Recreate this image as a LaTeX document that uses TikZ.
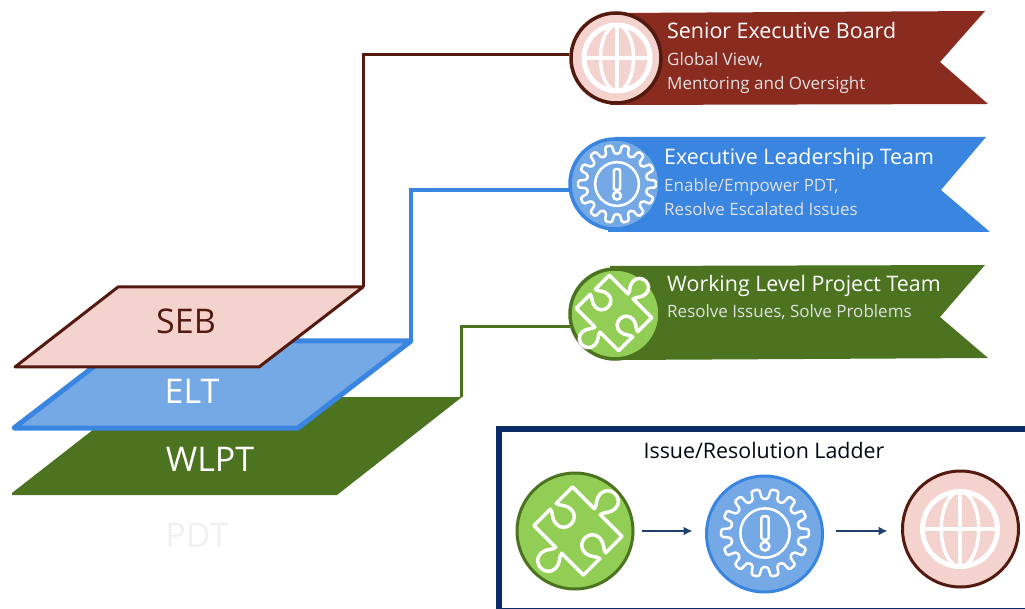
\documentclass[tikz,border=0pt]{standalone}
\usepackage{fontspec}
\setmainfont{Open Sans}
\usepackage{xcolor}
\usetikzlibrary{shapes.geometric, arrows.meta, positioning}

\definecolor{sebdark}{HTML}{8A2B20}
\definecolor{sebring}{HTML}{541A10}
\definecolor{sebfill}{HTML}{F4D2CD}
\definecolor{eltdark}{HTML}{3A85DF}
\definecolor{eltfill}{HTML}{75A9E6}
\definecolor{wlptdark}{HTML}{4B7320}
\definecolor{wlptfill}{HTML}{92CE55}
\definecolor{ladderblue}{HTML}{0A2A66}
\definecolor{arrowblue}{HTML}{1F3F6E}

\begin{document}
\begin{tikzpicture}[x=1pt, y=-1pt,
        badge/.style={circle, draw, line width=3.5pt, inner sep=0pt, minimum size=90pt},
        bigbadge/.style={circle, draw, line width=3pt, inner sep=0pt, minimum size=116pt},
        sebbadge/.style={draw=sebring, fill=sebfill},
        eltbadge/.style={draw=eltdark, fill=eltfill},
        wlptbadge/.style={draw=wlptdark, fill=wlptfill},
        title/.style={anchor=west, inner sep=0pt, text=white, text height=16pt, text depth=5pt, font=\fontsize{21.4}{21}\selectfont},
        subtitle/.style={anchor=north west, inner sep=0pt, align=left, text=white!88!black, font=\fontsize{17}{24}\selectfont},
        planelabel/.style={inner sep=0pt, font=\fontsize{34}{34}\selectfont},
        line/.style={draw, line width=3pt},
        flow/.style={draw=arrowblue, -{Latex[length=9pt, width=9pt]}, line width=2.5pt},
        globeicon/.pic={
            \draw[white, line width=5pt] (0,0) circle[radius=1];
            \draw[white, line width=3.5pt] (0,0) ellipse[x radius=.5, y radius=1];
            \draw[white, line width=3.5pt] (-1,0) -- (1,0) (0,-1) -- (0,1);
        },
        gearicon/.pic={
            \draw[white, line width=2.5pt, rounded corners=1.5pt] (-8:.78) -- (-5:1) -- (5:1) -- (8:.78)
                \foreach \i in {1,...,13} { -- (\i*25.714-8:.78) -- (\i*25.714-5:1) -- (\i*25.714+5:1) -- (\i*25.714+8:.78) } -- cycle;
            \draw[white, line width=2.5pt] (0,0) circle[radius=.56];
            \draw[white, line width=2.5pt, rounded corners=2pt] (-.08,-.38) rectangle (.08,.15);
            \draw[white, line width=2.5pt] (0,.3) circle[radius=.1];
        },
        puzzleicon/.pic={
            \draw[white, line width=3.5pt, line join=round] (-1,-.78) -- (-.12,-.78)
                .. controls (-.12,-.9) and (-.3,-1) .. (-.3,-1.2) .. controls (-.3,-1.6) and (.3,-1.6) .. (.3,-1.2)
                .. controls (.3,-1) and (.12,-.9) .. (.12,-.78) -- (1,-.78) -- (1,-.12)
                .. controls (.88,-.12) and (.78,-.3) .. (.58,-.3) .. controls (.18,-.3) and (.18,.3) .. (.58,.3)
                .. controls (.78,.3) and (.88,.12) .. (1,.12) -- (1,.78) -- (.12,.78)
                .. controls (.12,.9) and (.3,1) .. (.3,1.2) .. controls (.3,1.6) and (-.3,1.6) .. (-.3,1.2)
                .. controls (-.3,1) and (-.12,.9) .. (-.12,.78) -- (-1,.78) -- (-1,.12)
                .. controls (-.88,.12) and (-.78,.3) .. (-.58,.3) .. controls (-.18,.3) and (-.18,-.3) .. (-.58,-.3)
                .. controls (-.78,-.3) and (-.88,-.12) .. (-1,-.12) -- cycle;
        }]

        \useasboundingbox (0,0) rectangle (1025,609);

        % Planes
        \fill[wlptdark] (12,493) -- (135,397) -- (462,397) -- (337,495) -- (12,495) -- cycle;
        \draw[eltdark, fill=eltfill, line width=5pt, line join=round] (14,428) -- (127,341) -- (411,341) -- (298,428) -- cycle;
        \draw[sebring, fill=sebfill, line width=3pt, line join=round] (15,367) -- (118,287) -- (363,287) -- (259,367) -- cycle;
        \coordinate (wlptcorner) at (461,397);
        \coordinate (eltcorner) at (411,341);
        \coordinate (sebcorner) at (363,287);
        \node[planelabel, text=sebring] (seblabel) at (186,321) {SEB};
        \node[planelabel, text=white] (eltlabel) at (192,391) {ELT};
        \node[planelabel, text=white] (wlptlabel) at (210,459) {WLPT};
        \node[planelabel, text=black!6] (pdtlabel) at (197,535) {PDT};

        % Ribbons
        \fill[sebdark] (615,13) -- (985,11) -- (940,62) -- (988,104) -- (610,105) -- cycle;
        \fill[eltdark] (615,137) -- (986,137) -- (941,190) -- (990,232) -- (608,232) -- cycle;
        \fill[wlptdark] (610,266) -- (985,265) -- (940,317) -- (988,358) -- (620,360) -- cycle;

        % Badges
        \node[badge, sebbadge] (sebicon) at (616,58) {};
        \node[badge, eltbadge] (elticon) at (615,184) {};
        \node[badge, wlptbadge] (wlpticon) at (615,314) {};
        \pic[scale=33] at (617,58) {globeicon};
        \pic[scale=39] at (617,184) {gearicon};
        \pic[scale=30, rotate=-45] at (614,313) {puzzleicon};

        % Ribbon text
        \node[title] (sebtitle) at (667,33.5) {Senior Executive Board};
        \node[subtitle, below=8pt of sebtitle.south west, anchor=north west] (sebsub) {Global View,\\Mentoring and Oversight};
        \node[title] (elttitle) at (664,159.5) {Executive Leadership Team};
        \node[subtitle, below=8pt of elttitle.south west, anchor=north west] (eltsub) {Enable/Empower PDT,\\Resolve Escalated Issues};
        \node[title] (wlpttitle) at (667,286) {Working Level Project Team};
        \node[subtitle, below=8pt of wlpttitle.south west, anchor=north west] (wlptsub) {Resolve Issues, Solve Problems};

        % Ladder
        \draw[ladderblue, line width=6pt] (499,429) rectangle (1034,611);
        \node[inner sep=0pt, text=black!80!ladderblue, font=\fontsize{21.4}{21}\selectfont] (laddertitle) at (764,450) {Issue/Resolution Ladder};
        \node[bigbadge, wlptbadge] (ladderwlpt) at (575,531) {};
        \node[bigbadge, eltbadge] (ladderelt) at (764.5,534) {};
        \node[bigbadge, sebbadge] (ladderseb) at (960.5,529) {};
        \pic[scale=35, rotate=-45] at (578,531) {puzzleicon};
        \pic[scale=44] at (765,533) {gearicon};
        \pic[scale=37.5] at (960,529) {globeicon};

        % Edges
        \path [line, sebring] (sebcorner) |- (sebicon.176);
        \path [line, eltdark, line width=4pt] (eltcorner) |- (elticon.187);
        \path [line, wlptdark] (wlptcorner) |- (wlpticon.196);
        \path [flow, shorten <=7pt, shorten >=12.5pt] (ladderwlpt.east) -- (ladderelt.west |- ladderwlpt.east);
        \path [flow, shorten <=11.5pt, shorten >=13.5pt] (ladderelt.east |- ladderwlpt.east) -- (ladderseb.west |- ladderwlpt.east);

    \end{tikzpicture}
\end{document}
